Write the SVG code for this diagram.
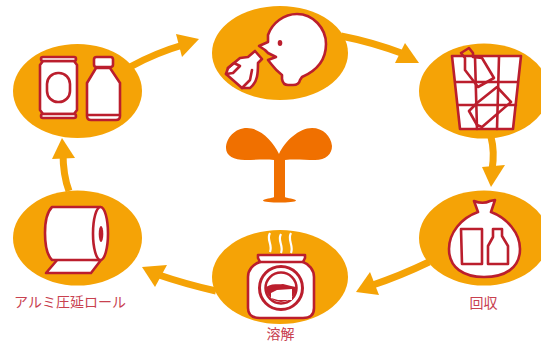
<svg xmlns="http://www.w3.org/2000/svg" width="541" height="342" viewBox="0 0 541 342">
<style>
.e{fill:#f5a306}
.s{fill:#fff;stroke:#bb1e2d;stroke-width:2.6;stroke-linejoin:round;stroke-linecap:round}
.n{fill:none;stroke:#bb1e2d;stroke-width:2.6;stroke-linejoin:round;stroke-linecap:round}
.c{fill:none;stroke:#f5a306;stroke-width:7}
.h{fill:#f5a306}
.t{font-family:"Noto Sans CJK JP","Noto Sans",sans-serif;font-size:14px;fill:#c8414f;text-anchor:middle}
.sp{fill:#f07000}
</style>
<g id="connectors">
<path class="c" d="M130 67Q155 53 186 44"/><path class="h" d="M176 34L199 39L182 57Z"/>
<path class="c" d="M341 36Q372 42 404 54"/><path class="h" d="M405 43L419 63L395 63Z"/>
<path class="c" d="M491 137Q495 152 492 170"/><path class="h" d="M482 167L505 165L491 187Z"/>
<path class="c" d="M429 262Q400 276 370 286"/><path class="h" d="M370 272L379 295L356 292Z"/>
<path class="c" d="M216 291Q185 284 156 274"/><path class="h" d="M142 267L167 265L155 287Z"/>
<path class="c" d="M69 191Q63 175 63 153"/><path class="h" d="M52 159L62 138L75 158Z"/>
</g>
<g id="sprout">
<path class="sp" d="M279 154C273 141 260 128 247 128C235 128 226 138 226 148C226 156 234 160 245 160C256 160 265 159 274 160L274 197C273 198 263 199 263 200.500C263 202 272 202.500 279.500 202.500C287 202.500 296 202 296 200.500C296 199 286 198 285 197L285 160C295 159 304 160 315 160C326 160 332 154 332 146C331 136 323 128 312 128C299 128 285 141 279 154Z"/>
</g>
<g id="cans">
<ellipse class="e" cx="77.500" cy="91" rx="64.500" ry="47"/>
<path class="s" d="M43 61L40 65L40 110L43 114L74 114L77 110L77 65L74 61Z"/>
<rect class="s" x="41" y="57" width="35" height="4" rx="2"/>
<rect class="s" x="41" y="114" width="35" height="4" rx="2"/>
<rect class="n" x="47" y="73" width="23" height="29" rx="11"/>
<path class="s" d="M96 68L87 83L87 116Q87 120 91 120L116 120Q120 120 120 116L120 83L110 68Z"/>
<rect class="s" x="94" y="57" width="19" height="10" rx="2.500"/>
<path class="n" d="M88 115L119 115"/>
</g>
<g id="drink">
<ellipse class="e" cx="280" cy="53" rx="68" ry="47"/>
<path class="s" d="M259 46L268 42L268 35C272 23 284 14 297 14C313 14 326 28 326 44C326 60 316 71 302 77L300 80Q299 85 293 85L288 85Q283 85 282 79L282 75C278 72 275 69 272 65L268 60L276 57L268 53L265 50Z"/>
<ellipse cx="280" cy="43" rx="2.300" ry="3" fill="#bb1e2d"/>
<path class="s" d="M255 51L262 59L258 63C258 72 258 82 250 88L242 88L226 74L228 68L240 58L248 57Z"/>
<path class="n" d="M242 88L250 80L252 70"/>
<path class="n" d="M228 68L234 63L240 66L233 73L226 74"/>
</g>
<g id="trash">
<ellipse class="e" cx="484" cy="91" rx="65" ry="47.500"/>
<path class="s" d="M452 56L521 56L513 129L460 129Z"/>
<path class="n" d="M475 57L477 129M499 57L497 129M456 82L517 82M458 105L516 105"/>
<path class="n" d="M461 53L469 48L473 53L473 57L482 58L494 78L478 87L475 83L465 70L465 58Z"/>
<path class="n" d="M469 111L477 103L497 87L511 102L482 127L477 125Z"/>
</g>
<g id="bag">
<ellipse class="e" cx="484" cy="238" rx="65" ry="47.500"/>
<path class="s" d="M474 201C479 203 484 204 490 201L495 200L491 212C507 218 520 233 520 249C520 268 505 277 484 277C464 277 449 268 449 249C449 233 461 218 478 212Z"/>
<path class="n" d="M461 229L482 229L482 264L462 264Z"/>
<path class="n" d="M493 229L502 229L502 236L508 246L508 264L488 264L488 246L493 237Z"/>
</g>
<g id="melt">
<ellipse class="e" cx="280" cy="277" rx="68" ry="47"/>
<path class="s" d="M258 255L305 255L305 258L303 262C309 264 314 270 314 277L314 308Q314 318 303 318L260 318Q248 318 248 308L248 277C248 270 253 264 260 262L258 258Z"/>
<path class="n" d="M260 262L303 262"/>
<circle cx="281" cy="288" r="21.500" fill="#fff" stroke="#bb1e2d" stroke-width="3"/>
<circle cx="281" cy="288" r="15.500" fill="#fff" stroke="#bb1e2d" stroke-width="2.500"/>
<path fill="#bb1e2d" d="M266 287C272 283 279 285 283 284L291 286L296 287A15 15 0 0 1 266 287Z"/>
<path fill="#fff" d="M271 293L277 290L292 289L292 300L278 300L271 298Z"/>
<path fill="none" stroke="#fff" stroke-width="2.200" d="M270 233C266 240 273 244 270 252M281 234C277 241 284 245 281 253M291 233C287 240 294 245 291 253"/>
</g>
<g id="roll">
<ellipse class="e" cx="77.500" cy="238" rx="64.500" ry="47.500"/>
<path class="s" d="M58 259L46 273L91 273L101 260Z"/>
<path class="s" d="M100 207L52 207C47 212 45 222 45 233C45 245 47 255 52 260L100 260Z"/>
<ellipse class="s" cx="100.500" cy="233.500" rx="7.500" ry="26.500"/>
<ellipse cx="101" cy="234" rx="2.300" ry="8" fill="#bb1e2d"/>
</g>
<text class="t" x="70" y="307">アルミ圧延ロール</text>
<text class="t" x="483.500" y="308">回収</text>
<text class="t" x="280.500" y="339">溶解</text>
</svg>
